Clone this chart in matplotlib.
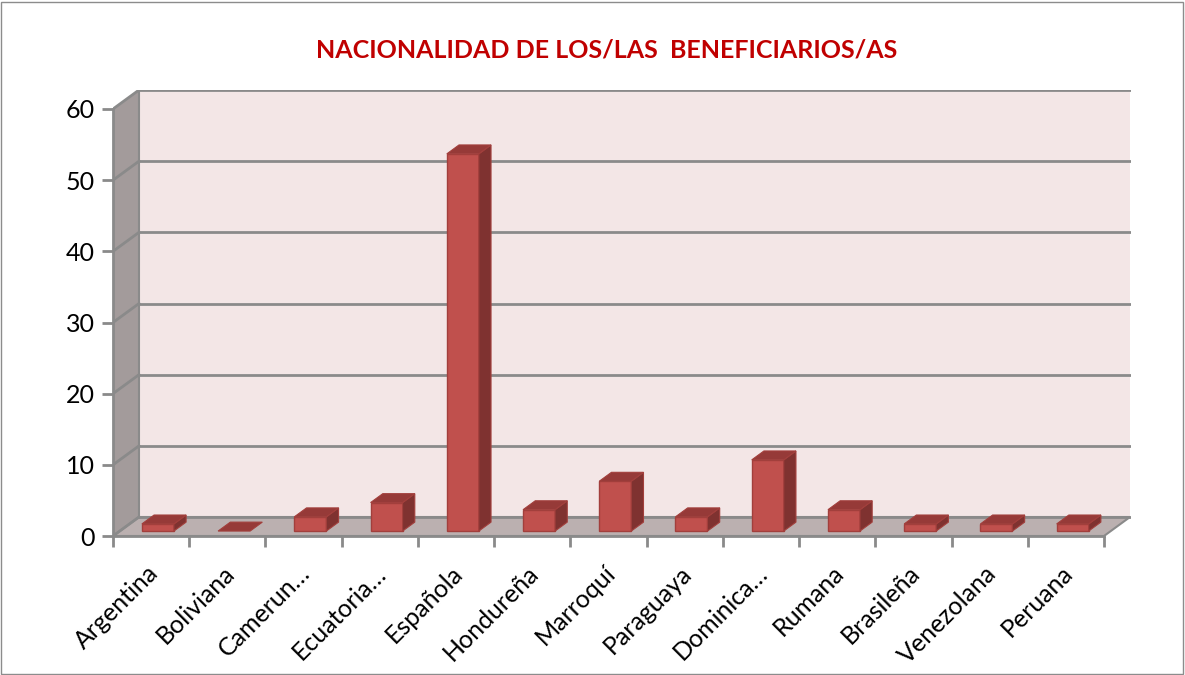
import matplotlib.pyplot as plt
from matplotlib.patches import Polygon, Rectangle
from matplotlib.transforms import ScaledTranslation

# Data
categories = ["Argentina", "Boliviana", "Camerun…", "Ecuatoria…", "Española", "Hondureña",
              "Marroquí", "Paraguaya", "Dominica…", "Rumana", "Brasileña", "Venezolana", "Peruana"]
values = [1, 0, 2, 4, 53, 3, 7, 2, 10, 3, 1, 1, 1]
yticks = [0, 10, 20, 30, 40, 50, 60]
title = "NACIONALIDAD DE LOS/LAS  BENEFICIARIOS/AS"

plt.rcParams['font.family'] = ['Lato', 'DejaVu Sans']

W, H = 1185, 675
fig = plt.figure(figsize=(W / 100, H / 100), dpi=100)
ax = fig.add_axes([113 / W, (H - 536) / H, (1131 - 113) / W, (536 - 90) / H])

n = len(categories)
px_cat = 991 / n          # pixels per category
px_unit = 427 / 60        # pixels per value unit
DX = 26 / px_cat          # depth offset of the back wall (data units)
DY = 19 / px_unit
ax.set_xlim(-0.5, -0.5 + 1018 / px_cat)
ax.set_ylim(0, 446 / px_unit)
ax.patch.set_visible(False)

grid_c = "#8a8a8a"
ymax = yticks[-1]
x0, x1 = -0.5, n - 0.5

# walls and floor
ax.add_patch(Rectangle((x0 + DX, DY), x1 - x0, ymax, facecolor="#f3e6e6", edgecolor="none", zorder=0))
ax.add_patch(Polygon([(x0, 0), (x0, ymax), (x0 + DX, ymax + DY), (x0 + DX, DY)],
                     facecolor="#a39b9b", edgecolor="none", zorder=0))
ax.add_patch(Polygon([(x0, 0), (x1, 0), (x1 + DX, DY), (x0 + DX, DY)],
                     facecolor="#bbb0b0", edgecolor=grid_c, linewidth=1.5, zorder=0.5))
for t in yticks:
    ax.plot([x0 + DX, x1 + DX], [t + DY, t + DY], color=grid_c, lw=2, zorder=1)
    ax.plot([x0, x0 + DX], [t, t + DY], color=grid_c, lw=2, zorder=1)
ax.plot([x0 + DX, x0 + DX], [DY, ymax + DY], color=grid_c, lw=1.5, zorder=1)

# 3D bars
w = 0.42
f0, d = 0.26, 0.47
front_c, side_c, top_c, edge_c = "#c0504d", "#7f3230", "#963a38", "#a23f3c"
for i, v in enumerate(values):
    bx = i - w / 2 + f0 * DX
    by = f0 * DY
    ddx, ddy = d * DX, d * DY
    if v > 0:
        ax.add_patch(Rectangle((bx, by), w, v, facecolor=front_c, edgecolor=edge_c, lw=1, zorder=3))
        ax.add_patch(Polygon([(bx + w, by), (bx + w, by + v), (bx + w + ddx, by + v + ddy), (bx + w + ddx, by + ddy)],
                             facecolor=side_c, edgecolor=edge_c, lw=0.8, zorder=3))
    ax.add_patch(Polygon([(bx, by + v), (bx + w, by + v), (bx + w + ddx, by + v + ddy), (bx + ddx, by + v + ddy)],
                         facecolor=top_c, edgecolor=edge_c, lw=0.8, zorder=3))

# axes
for s in ["top", "right"]:
    ax.spines[s].set_visible(False)
ax.spines["left"].set_bounds(0, ymax)
ax.spines["bottom"].set_bounds(x0, x1)
for s in ["left", "bottom"]:
    ax.spines[s].set_color(grid_c)
    ax.spines[s].set_linewidth(2)
    ax.spines[s].set_zorder(2)

ax.set_yticks(yticks)
ax.tick_params(axis="y", length=8, width=2, color=grid_c, labelsize=18, pad=5)
ax.set_xticks(range(n))
ax.set_xticks([i - 0.5 for i in range(n + 1)], minor=True)
ax.tick_params(axis="x", which="major", length=0, pad=24)
ax.tick_params(axis="x", which="minor", length=8, width=2, color=grid_c)
ax.set_xticklabels(categories, rotation=45, ha="right", va="center",
                   rotation_mode="anchor", fontsize=18)
for lab in ax.get_xticklabels():
    lab.set_transform(lab.get_transform() + ScaledTranslation(0.03, 0, fig.dpi_scale_trans))

fig.text(607 / W, (H - 50) / H, title, color="#c00000", fontsize=18, fontweight="bold",
         ha="center", va="center")

fig.add_artist(Rectangle((1 / W, 1 / H), (W - 3) / W, (H - 3) / H, transform=fig.transFigure,
                         facecolor="none", edgecolor="#8c8c8c", lw=1))

fig.savefig("out.png", dpi=100)
